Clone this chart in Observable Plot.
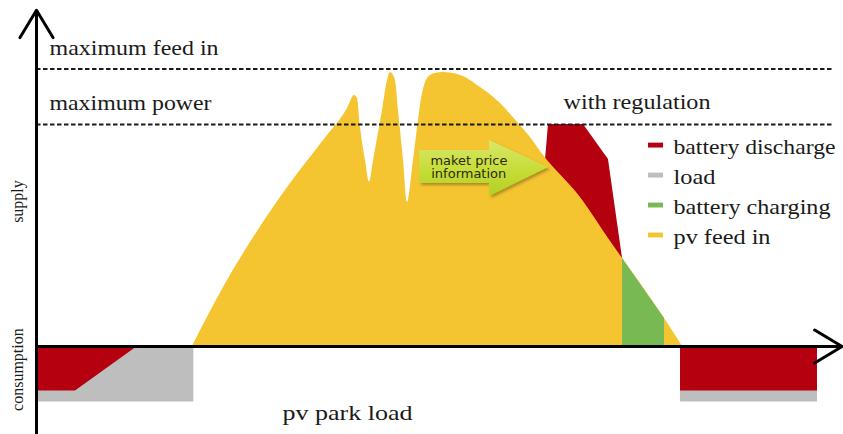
<!DOCTYPE html>
<html><head><meta charset="utf-8">
<script src="https://cdn.jsdelivr.net/npm/d3@7"></script>
<script src="https://cdn.jsdelivr.net/npm/@observablehq/plot@0.6"></script>
<style>html,body{margin:0;padding:0;background:#fff;} svg{display:block}</style>
</head><body><div id="chart"></div>
<script>
// Time of day (arbitrary units 0..100) and power (% of maximum power)
const pvTime = [19.4, 23.26, 27.49, 31.59, 35.70, 38.68, 39.55, 39.93, 40.30, 40.92, 41.42,
  41.92, 43.03, 43.66, 44.03, 44.65, 45.02, 45.65, 46.14, 46.89, 47.51, 48.01, 49.00,
  50.50, 52.74, 55.22, 57.71, 59.83, 61.44, 63.06, 63.56, 67.66, 68.03, 71.14, 72.89, 78.11, 80.35];
const pvFeedIn = [0, 26.6, 51.8, 73.4, 92.8, 107.2, 113.1, 111.7, 98.6, 83.8, 73.9,
  83.8, 106.3, 119.8, 123.4, 119.8, 106.3, 83.8, 64.9, 83.8, 101.8, 114.0, 122.1,
  123.4, 122.1, 116.7, 109.5, 100.9, 94.1, 86.0, 83.8, 67.1, 65.3, 48.6, 39.6, 12.6, 0];

const regulationTime = [63.31, 63.68, 68.03, 71.14, 72.89];
const regulatedSupply = [84, 100, 100, 84.2, 39.6];

const chargingTime = [72.89, 78.11];
const chargingValue = [39.6, 12.6];

const loadLeftTime = [0, 19.57];
const loadRightTime = [80.1, 97.14];
const loadValue = -25;

const nightDischargeLeftTime = [0, 4.85, 12.56];
const nightDischargeLeftValue = [-20, -20, 0];
const nightDischargeRightTime = [80.1, 97.14];
const nightDischargeRightValue = [-20, -20];

const maximumPower = 100;
const maximumFeedIn = 125;

const legendLabels = ["battery discharge", "load", "battery charging", "pv feed in"];
const legendColors = ["#b4000f", "#bfbebe", "#78b954", "#f5c431"];

// arrow annotation outline
const arrowTime = [47.64, 56.34, 56.34, 63.68];
const arrowLower = [73.4, 73.4, 67.6, 80.6];
const arrowUpper = [88.3, 88.3, 92.8, 80.6];

const RED = legendColors[0], GRAY = legendColors[1], GREEN = legendColors[2], YELLOW = legendColors[3];
const zip = (xs, ys, extra = {}) => xs.map((x, i) => ({t: x, v: ys[i], ...extra}));

const pv = zip(pvTime, pvFeedIn);
const reg = zip(regulationTime, regulatedSupply);
const charging = zip(chargingTime, chargingValue);
const load = [
  ...loadLeftTime.map(t => ({t, v: loadValue, side: "L"})),
  ...loadRightTime.map(t => ({t, v: loadValue, side: "R"}))
];
const nightDischarge = [
  ...zip(nightDischargeLeftTime, nightDischargeLeftValue, {side: "L"}),
  ...zip(nightDischargeRightTime, nightDischargeRightValue, {side: "R"})
];
const arrowShape = arrowTime.map((t, i) => ({t, lo: arrowLower[i], hi: arrowUpper[i]}));

const SERIF = "'Liberation Serif', 'Times New Roman', serif";
const SANS = "'DejaVu Sans', Verdana, sans-serif";
const INK = "#1a1a1a";

const legendBase = i => 86.5 - i * 13.5;
const serifText = (label, x, y, extra = {}) =>
  Plot.text([label], {x, y, text: d => d, textAnchor: "start", lineAnchor: "bottom", fontFamily: SERIF, fontSize: 21, fill: INK, ...extra});

const svg = Plot.plot({
  width: 843, height: 434,
  marginTop: 0, marginRight: 0, marginBottom: 0, marginLeft: 0,
  x: {domain: [0, 100], range: [36, 840], axis: null},
  y: {domain: [0, 100], range: [346, 124], axis: null},
  style: {background: "#fff"},
  marks: [
    Plot.areaY(reg, {x: "t", y1: 0, y2: "v", fill: RED}),
    Plot.areaY(pv, {x: "t", y1: 0, y2: "v", fill: YELLOW, curve: "monotone-x"}),
    Plot.areaY(charging, {x: "t", y1: 0, y2: "v", fill: GREEN}),
    Plot.areaY(load, {x: "t", y1: 0, y2: "v", z: "side", fill: GRAY}),
    Plot.areaY(nightDischarge, {x: "t", y1: 0, y2: "v", z: "side", fill: RED}),
    Plot.areaY(arrowShape, {x: "t", y1: "lo", y2: "hi", fill: "url(#arrowGrad)"}),
    Plot.text(["maket price"], {x: 49.0, y: 81.8, text: d => d, textAnchor: "start", lineAnchor: "bottom", fontFamily: SANS, fontSize: 13, fill: "#2a2a10"}),
    Plot.text(["information"], {x: 49.1, y: 75.7, text: d => d, textAnchor: "start", lineAnchor: "bottom", fontFamily: SANS, fontSize: 13, fill: "#2a2a10"}),
    Plot.ruleY([maximumPower, maximumFeedIn], {x1: 0, x2: 99.0, stroke: INK, strokeWidth: 1.8, strokeDasharray: "4.5,2.5"}),
    Plot.arrow([0], {x1: 0, y1: -40, x2: 0, y2: 151.5, stroke: "#000", strokeWidth: 3, headLength: 16, headAngle: 62}),
    Plot.arrow([0], {x1: 0, y1: 0, x2: 100.2, y2: 0, stroke: "#000", strokeWidth: 3, headLength: 16, headAngle: 62}),
    serifText("maximum feed in", 1.62, 131.1),
    serifText("maximum power", 1.62, 106.5),
    serifText("with regulation", 65.55, 106.8),
    serifText("pv park load", 30.6, -33.0),
    Plot.text(["supply"], {x: -2.36, y: 65.3, text: d => d, rotate: -90, fontFamily: SERIF, fontSize: 16, fill: INK}),
    Plot.text(["consumption"], {x: -2.36, y: -10.4, text: d => d, rotate: -90, fontFamily: SERIF, fontSize: 16, fill: INK}),
    Plot.rect(legendLabels, {x1: 76.12, x2: 77.99, y1: (d, i) => legendBase(i) + 2.9, y2: (d, i) => legendBase(i) + 5.1, fill: (d, i) => legendColors[i]}),
    Plot.text(legendLabels, {x: 79.23, y: (d, i) => legendBase(i), text: d => d, textAnchor: "start", lineAnchor: "bottom", fontFamily: SERIF, fontSize: 21, fill: INK})
  ]
});

// gradient + shadow for the annotation arrow
const defs = d3.select(svg).insert("defs", ":first-child");
const g = defs.append("linearGradient").attr("id", "arrowGrad").attr("x1", 0).attr("y1", 0).attr("x2", 0).attr("y2", 1);
g.append("stop").attr("offset", "0%").attr("stop-color", "#d9e86a");
g.append("stop").attr("offset", "55%").attr("stop-color", "#c6dc36");
g.append("stop").attr("offset", "100%").attr("stop-color", "#b4cf26");
const f = defs.append("filter").attr("id", "arrowShadow").attr("x", "-10%").attr("y", "-20%").attr("width", "130%").attr("height", "150%");
f.append("feDropShadow").attr("dx", 2).attr("dy", 2).attr("stdDeviation", 1.5).attr("flood-color", "#000").attr("flood-opacity", 0.3);
d3.select(svg).selectAll("path").filter(function() {
  return (this.getAttribute("fill") || "").startsWith("url(#arrowGrad") || (this.parentNode.getAttribute("fill") || "").startsWith("url(#arrowGrad");
}).attr("filter", "url(#arrowShadow)");

// the reference text is horizontally stretched: fit label widths
const textWidths = {
  "maximum feed in": 169, "maximum power": 162, "with regulation": 147, "pv park load": 130,
  "battery discharge": 162, "load": 42, "battery charging": 157, "pv feed in": 97,
  "maket price": 77, "information": 75
};
d3.select(svg).selectAll("text").each(function() {
  const w = textWidths[this.textContent];
  if (w) { this.setAttribute("textLength", w); this.setAttribute("lengthAdjust", "spacingAndGlyphs"); }
});

document.getElementById("chart").appendChild(svg);
</script>
</body></html>
